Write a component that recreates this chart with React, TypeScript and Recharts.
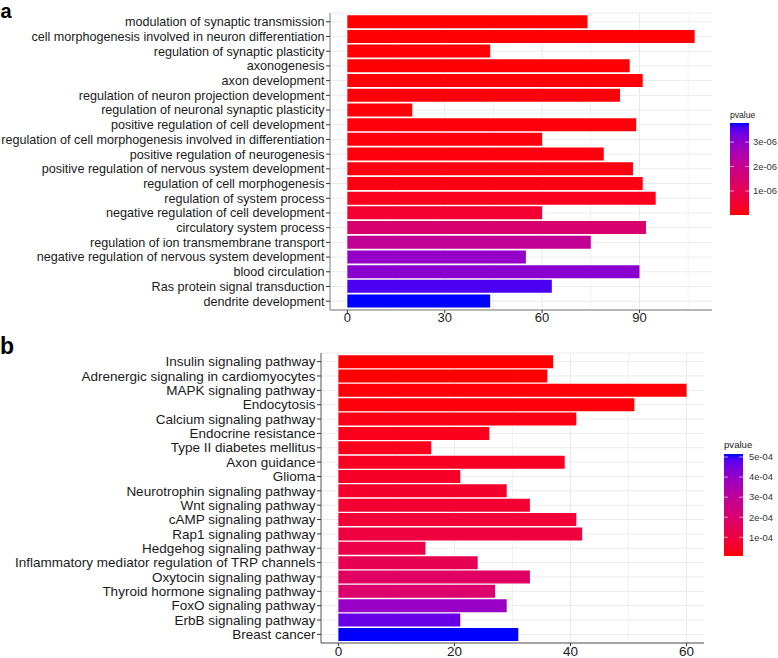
import { BarChart, Bar, Cell, XAxis, YAxis, CartesianGrid } from 'recharts'

const TERMS_A = [
  'modulation of synaptic transmission',
  'cell morphogenesis involved in neuron differentiation',
  'regulation of synaptic plasticity',
  'axonogenesis',
  'axon development',
  'regulation of neuron projection development',
  'regulation of neuronal synaptic plasticity',
  'positive regulation of cell development',
  'regulation of cell morphogenesis involved in differentiation',
  'positive regulation of neurogenesis',
  'positive regulation of nervous system development',
  'regulation of cell morphogenesis',
  'regulation of system process',
  'negative regulation of cell development',
  'circulatory system process',
  'regulation of ion transmembrane transport',
  'negative regulation of nervous system development',
  'blood circulation',
  'Ras protein signal transduction',
  'dendrite development',
]
const COUNT_A = [74, 107, 44, 87, 91, 84, 20, 89, 60, 79, 88, 91, 95, 60, 92, 75, 55, 90, 63, 44]
const PVAL_A = [
  0.02e-6, 0.03e-6, 0.04e-6, 0.045e-6, 0.05e-6, 0.06e-6, 0.07e-6, 0.08e-6, 0.09e-6, 0.1e-6,
  0.11e-6, 0.13e-6, 0.25e-6, 0.51e-6, 1.45e-6, 2.09e-6, 2.92e-6, 3.07e-6, 3.59e-6, 3.78e-6,
]
const XTICKS_A = [0, 30, 60, 90]
const MINOR_A = [15, 45, 75, 105]
const LEGEND_TICKS_A = [1e-6, 2e-6, 3e-6]

const TERMS_B = [
  'Insulin signaling pathway',
  'Adrenergic signaling in cardiomyocytes',
  'MAPK signaling pathway',
  'Endocytosis',
  'Calcium signaling pathway',
  'Endocrine resistance',
  'Type II diabetes mellitus',
  'Axon guidance',
  'Glioma',
  'Neurotrophin signaling pathway',
  'Wnt signaling pathway',
  'cAMP signaling pathway',
  'Rap1 signaling pathway',
  'Hedgehog signaling pathway',
  'Inflammatory mediator regulation of TRP channels',
  'Oxytocin signaling pathway',
  'Thyroid hormone signaling pathway',
  'FoxO signaling pathway',
  'ErbB signaling pathway',
  'Breast cancer',
]
const COUNT_B = [37, 36, 60, 51, 41, 26, 16, 39, 21, 29, 33, 41, 42, 15, 24, 33, 27, 29, 21, 31]
const PVAL_B = [
  0.07e-4, 0.1e-4, 0.12e-4, 0.17e-4, 0.27e-4, 0.32e-4, 0.37e-4, 0.48e-4, 0.53e-4, 0.63e-4,
  0.73e-4, 0.83e-4, 0.98e-4, 1.19e-4, 1.39e-4, 1.75e-4, 1.95e-4, 3.93e-4, 4.64e-4, 5.15e-4,
]
const XTICKS_B = [0, 20, 40, 60]
const MINOR_B = [10, 30, 50]
const LEGEND_TICKS_B = [1e-4, 2e-4, 3e-4, 4e-4, 5e-4]

const FONT = '"Liberation Sans", Arial, Helvetica, sans-serif'
const LOW = [255, 0, 0]
const HIGH = [0, 0, 255]

// ggplot-style gradient: interpolate in CIELAB
const toLin = (c: number) => {
  const v = c / 255
  return v <= 0.04045 ? v / 12.92 : Math.pow((v + 0.055) / 1.055, 2.4)
}
const fromLin = (c: number) => {
  const v = Math.min(1, Math.max(0, c))
  const s = v <= 0.0031308 ? 12.92 * v : 1.055 * Math.pow(v, 1 / 2.4) - 0.055
  return Math.round(s * 255)
}
const WX = 0.95047
const WZ = 1.08883
const f = (t: number) => (t > 0.008856 ? Math.cbrt(t) : 7.787 * t + 16 / 116)
const finv = (t: number) => (t * t * t > 0.008856 ? t * t * t : (t - 16 / 116) / 7.787)

function rgbToLab([r, g, b]: number[]) {
  const R = toLin(r), G = toLin(g), B = toLin(b)
  const X = (0.4124 * R + 0.3576 * G + 0.1805 * B) / WX
  const Y = 0.2126 * R + 0.7152 * G + 0.0722 * B
  const Z = (0.0193 * R + 0.1192 * G + 0.9505 * B) / WZ
  const fx = f(X), fy = f(Y), fz = f(Z)
  return [116 * fy - 16, 500 * (fx - fy), 200 * (fy - fz)]
}

function labToHex([L, a, b]: number[]) {
  const fy = (L + 16) / 116
  const fx = fy + a / 500
  const fz = fy - b / 200
  const X = finv(fx) * WX, Y = finv(fy), Z = finv(fz) * WZ
  const R = 3.2406 * X - 1.5372 * Y - 0.4986 * Z
  const G = -0.9689 * X + 1.8758 * Y + 0.0415 * Z
  const B = 0.0557 * X - 0.204 * Y + 1.057 * Z
  return '#' + [R, G, B].map(c => fromLin(c).toString(16).padStart(2, '0')).join('')
}

const LAB_LOW = rgbToLab(LOW)
const LAB_HIGH = rgbToLab(HIGH)
const ramp = (t: number) => labToHex(LAB_LOW.map((v, i) => v + (LAB_HIGH[i] - v) * t))

const fmtExp = (v: number) => {
  const [m, e] = v.toExponential(0).split('e')
  const sign = e[0] === '-' ? '-' : '+'
  return `${m}e${sign}${e.replace(/[+-]/, '').padStart(2, '0')}`
}

function Panel({ terms, counts, pvals, ticks, minor, top, width, height, marginTop, yWidth, labelSize, tickSize, borderColor }: any) {
  const pmin = Math.min(...pvals)
  const pmax = Math.max(...pvals)
  const data = terms.map((name: string, i: number) => ({ name, count: counts[i], p: pvals[i] }))
  const max = Math.max(...counts)
  const domain = [-0.05 * max, 1.05 * max]
  const band = (height - marginTop - 15) / 20.2

  return (
    <div style={{ position: 'absolute', left: 0, top }}>
      <BarChart
        width={width}
        height={height}
        data={data}
        layout="vertical"
        margin={{ top: marginTop, right: 2, bottom: 0, left: 0 }}
        barCategoryGap="5%"
      >
        <CartesianGrid stroke="#ebebeb" strokeWidth={0.6} horizontal={false} verticalValues={minor} />
        <CartesianGrid stroke="#ebebeb" strokeWidth={1} verticalValues={ticks} />
        <XAxis
          type="number"
          dataKey="count"
          domain={domain}
          ticks={ticks}
          allowDataOverflow
          height={15}
          tickSize={3}
          tickMargin={0}
          stroke="#333"
          axisLine={{ stroke: borderColor }}
          tick={({ x, y, payload }: any) => (
            <text x={x} y={y} dy="0.71em" textAnchor="middle" fontSize={tickSize} fill="#1a1a1a" fontFamily={FONT}>
              {payload.value}
            </text>
          )}
        />
        <XAxis xAxisId="top" orientation="top" type="number" domain={domain} allowDataOverflow height={0} tick={false} tickLine={false} axisLine={{ stroke: borderColor }} />
        <YAxis
          type="category"
          dataKey="name"
          width={yWidth}
          interval={0}
          padding={{ top: band * 0.1, bottom: band * 0.1 }}
          tickSize={4}
          tickMargin={1.5}
          stroke="#333"
          axisLine={{ stroke: borderColor }}
          tick={({ x, y, payload }: any) => (
            <text x={x} y={y} dy="0.35em" textAnchor="end" fontSize={labelSize} fill="#1a1a1a" fontFamily={FONT}>
              {payload.value}
            </text>
          )}
        />
        <YAxis yAxisId="right" orientation="right" type="category" dataKey="name" width={0} tick={false} tickLine={false} axisLine={{ stroke: borderColor }} />
        <Bar dataKey="count" isAnimationActive={false}>
          {data.map((d: any, i: number) => (
            <Cell key={i} fill={ramp((d.p - pmin) / (pmax - pmin))} />
          ))}
        </Bar>
      </BarChart>
    </div>
  )
}

function ColorBar({ pvals, ticks, left, top, barTop, barH, labelGap, titleSize, titleGap }: any) {
  const pmin = Math.min(...pvals)
  const pmax = Math.max(...pvals)
  const id = `grad${left}`
  const stops = Array.from({ length: 21 }, (_, i) => i / 20)
  const barW = 19
  return (
    <svg style={{ position: 'absolute', left, top, overflow: 'visible' }} width={50} height={barTop + barH + 10}>
      <defs>
        <linearGradient id={id} x1="0" y1="1" x2="0" y2="0">
          {stops.map(s => (
            <stop key={s} offset={s} stopColor={ramp(s)} />
          ))}
        </linearGradient>
      </defs>
      <text x={0} y={barTop - titleGap} fontSize={titleSize} fill="#1a1a1a" fontFamily={FONT}>pvalue</text>
      <rect x={0} y={barTop} width={barW} height={barH} fill={`url(#${id})`} />
      {ticks.map((t: number) => {
        const y = barTop + barH - ((t - pmin) / (pmax - pmin)) * barH
        return (
          <g key={t}>
            <line x1={0} x2={4} y1={y} y2={y} stroke="#fff" strokeOpacity={0.6} />
            <line x1={barW - 4} x2={barW} y1={y} y2={y} stroke="#fff" strokeOpacity={0.6} />
            <text x={barW + labelGap} y={y} dy="0.35em" fontSize={9.4} fill="#333" fontFamily={FONT}>
              {fmtExp(t)}
            </text>
          </g>
        )
      })}
    </svg>
  )
}

export default function App() {
  return (
    <div style={{ position: 'absolute', left: 0, top: 0, width: 778, height: 658, background: '#fff', fontFamily: FONT, overflow: 'hidden' }}>
      <svg style={{ position: 'absolute', left: 0, top: 0 }} width={30} height={658}>
        <text x={0.5} y={17.5} fontSize={20} fontWeight="bold" fill="#000" fontFamily={FONT}>a</text>
        <text x={0} y={354} fontSize={23} fontWeight="bold" fill="#000" fontFamily={FONT}>b</text>
      </svg>
      <Panel
        terms={TERMS_A}
        counts={COUNT_A}
        pvals={PVAL_A}
        ticks={XTICKS_A}
        minor={MINOR_A}
        top={0}
        width={714}
        height={325}
        marginTop={13}
        yWidth={330}
        labelSize={12.6}
        tickSize={13}
        borderColor="#7a7a7a"
      />
      <Panel
        terms={TERMS_B}
        counts={COUNT_B}
        pvals={PVAL_B}
        ticks={XTICKS_B}
        minor={MINOR_B}
        top={330}
        width={706}
        height={328}
        marginTop={23}
        yWidth={321}
        labelSize={13.5}
        tickSize={13.5}
        borderColor="#555"
      />
      <ColorBar pvals={PVAL_A} ticks={LEGEND_TICKS_A} left={730} top={100} barTop={23} barH={92} labelGap={4} titleSize={8.6} titleGap={5} />
      <ColorBar pvals={PVAL_B} ticks={LEGEND_TICKS_B} left={724} top={430} barTop={24} barH={102} labelGap={6} titleSize={9.6} titleGap={6} />
    </div>
  )
}
